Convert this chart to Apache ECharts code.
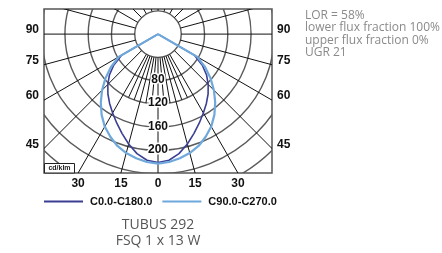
<!DOCTYPE html>
<html>
<head>
<meta charset="utf-8">
<script src="https://cdn.jsdelivr.net/npm/echarts@6/dist/echarts.min.js"></script>
<style>
  html, body { margin: 0; padding: 0; background: #fff; }
  #chart { width: 442px; height: 253px; }
</style>
</head>
<body>
<div id="chart"></div>
<script>
// gamma angles (deg from nadir) and intensities in cd/klm
const gammaAngles = [0, 5, 10, 15, 20, 25, 30, 35, 40, 45, 50, 55, 60, 65, 70, 75, 80, 85, 90];
const c0c180 = [220, 217, 208, 195, 181, 168, 156, 145, 134, 122, 109, 93, 72, 0, 0, 0, 0, 0, 0];
const c90c270 = [222, 220, 216, 211, 204, 194, 183, 169, 153, 136, 118, 99, 78, 0, 0, 0, 0, 0, 0];

const ringRadii = [40, 80, 120, 160, 200, 240, 280, 320];
const ringLabels = [80, 120, 160, 200];
const spokeAngles = [0, 15, 30, 45, 60, 75, 90, 105, 120, 135, 150, 165, 180, 195, 210, 225, 240, 255, 270, 285, 300, 315, 330, 345];
const fineSpokes = [-25, -20, -10, -5, 5, 10, 20, 25];
const sideTicks = [90, 75, 60, 45];
const bottomTicks = [-30, -15, 0, 15, 30];
const infoLines = ['LOR = 58%', 'lower flux fraction 100%', 'upper flux fraction 0%', 'UGR 21'];
const titleLines = ['TUBUS 292', 'FSQ 1 x 13 W'];

const X_MAX = 196;
const Y_MIN = -238;
const Y_MAX = 43;
const HOLE = 40;
const FINE_END = 120;
const labelFont = '"Liberation Sans", Arial, sans-serif';

const rad = d => d * Math.PI / 180;

function curve(values) {
  const pts = [];
  for (let i = gammaAngles.length - 1; i >= 0; i--) {
    const g = rad(gammaAngles[i]);
    pts.push([-values[i] * Math.sin(g), -values[i] * Math.cos(g)]);
  }
  for (let i = 1; i < gammaAngles.length; i++) {
    const g = rad(gammaAngles[i]);
    pts.push([values[i] * Math.sin(g), -values[i] * Math.cos(g)]);
  }
  return pts;
}

function spoke(rEnd) {
  return function (params, api) {
    const g = rad(api.value(0));
    const p1 = api.coord([HOLE * Math.sin(g), -HOLE * Math.cos(g)]);
    const p2 = api.coord([rEnd * Math.sin(g), -rEnd * Math.cos(g)]);
    return { type: 'line', shape: { x1: p1[0], y1: p1[1], x2: p2[0], y2: p2[1] }, style: { stroke: '#111', lineWidth: 1 } };
  };
}

const chart = echarts.init(document.getElementById('chart'));

chart.setOption({
  animation: false,
  backgroundColor: '#fff',
  grid: { left: 44, top: 9, width: 228, height: 164, show: true, borderColor: '#555', borderWidth: 1.5 },
  xAxis: { type: 'value', min: -X_MAX, max: X_MAX, show: false },
  yAxis: { type: 'value', min: Y_MIN, max: Y_MAX, show: false },
  title: [
    {
      text: titleLines.join('\n'), left: 158, top: 217, textAlign: 'center', padding: 0,
      textStyle: { fontFamily: '"Open Sans", sans-serif', fontSize: 14, fontWeight: 'normal', color: '#555', lineHeight: 16 }
    },
    {
      text: infoLines.join('\n'), left: 305, top: 9, padding: 0,
      textStyle: { fontFamily: '"Open Sans", sans-serif', fontSize: 12, fontWeight: 'normal', color: '#8a8a8a', lineHeight: 12.5 }
    }
  ],
  legend: {
    left: 44, top: 196, padding: 0, icon: 'rect', itemWidth: 39, itemHeight: 2, itemGap: 10,
    textStyle: { fontFamily: labelFont, fontSize: 11, fontWeight: 'bold', color: '#111', padding: [0, 0, 0, 2] },
    data: ['C0.0-C180.0', 'C90.0-C270.0']
  },
  graphic: [
    { type: 'rect', z: 100, shape: { x: 44.5, y: 163.5, width: 30, height: 9.5 }, style: { fill: '#fff', stroke: '#222', lineWidth: 1 } },
    { type: 'text', z: 101, x: 59.5, y: 168.5, style: { text: 'cd/klm', fontFamily: labelFont, fontSize: 7, fontWeight: 'bold', fill: '#222', align: 'center', verticalAlign: 'middle' } }
  ],
  series: [
    {
      type: 'custom', silent: true, clip: true, z: 1,
      data: ringRadii.map(r => [r, 0]),
      renderItem(params, api) {
        const c = api.coord([0, 0]);
        const e = api.coord([api.value(0), 0]);
        return { type: 'circle', shape: { cx: c[0], cy: c[1], r: e[0] - c[0] }, style: { fill: 'none', stroke: '#5a5a5a', lineWidth: 1.4 } };
      }
    },
    {
      type: 'custom', silent: true, clip: true, z: 1,
      data: spokeAngles.map(a => [a, 0]),
      renderItem: spoke(500)
    },
    {
      type: 'custom', silent: true, clip: true, z: 1,
      data: fineSpokes.map(a => [a, 0]),
      renderItem: spoke(FINE_END)
    },
    {
      name: 'C0.0-C180.0', type: 'line', z: 3, symbol: 'none', data: curve(c0c180),
      lineStyle: { color: '#3b3f94', width: 1.6 }, itemStyle: { color: '#3b3f94' }
    },
    {
      name: 'C90.0-C270.0', type: 'line', z: 4, symbol: 'none', data: curve(c90c270),
      lineStyle: { color: '#6fa8dc', width: 2.2 }, itemStyle: { color: '#6fa8dc' }
    },
    {
      type: 'custom', silent: true, z: 5,
      data: ringLabels.map(v => [0, -v]),
      renderItem(params, api) {
        const p = api.coord([api.value(0), api.value(1)]);
        return {
          type: 'text', x: p[0], y: p[1] - 1,
          style: { text: String(-api.value(1)), fontFamily: labelFont, fontSize: 12, fontWeight: 'bold', fill: '#111', align: 'center', verticalAlign: 'middle', stroke: '#fff', lineWidth: 3 }
        };
      }
    },
    {
      type: 'custom', silent: true, z: 5,
      data: sideTicks.flatMap(a => [[a, -1], [a, 1]]),
      renderItem(params, api) {
        const a = api.value(0);
        const side = api.value(1);
        const yv = a === 90 ? 0 : -X_MAX / Math.tan(rad(a));
        const p = api.coord([side * X_MAX, yv]);
        return {
          type: 'text', x: p[0] + side * 5, y: p[1] - 4,
          style: { text: String(a), fontFamily: labelFont, fontSize: 12, fontWeight: 'bold', fill: '#111', align: side < 0 ? 'right' : 'left', verticalAlign: 'middle' }
        };
      }
    },
    {
      type: 'custom', silent: true, z: 5,
      data: bottomTicks.map(a => [a, 0]),
      renderItem(params, api) {
        const a = api.value(0);
        const p = api.coord([-Y_MIN * Math.tan(rad(a)), Y_MIN]);
        return {
          type: 'text', x: p[0], y: p[1] + 11,
          style: { text: String(Math.abs(a)), fontFamily: labelFont, fontSize: 12, fontWeight: 'bold', fill: '#111', align: 'center', verticalAlign: 'middle' }
        };
      }
    }
  ]
});
</script>
</body>
</html>
